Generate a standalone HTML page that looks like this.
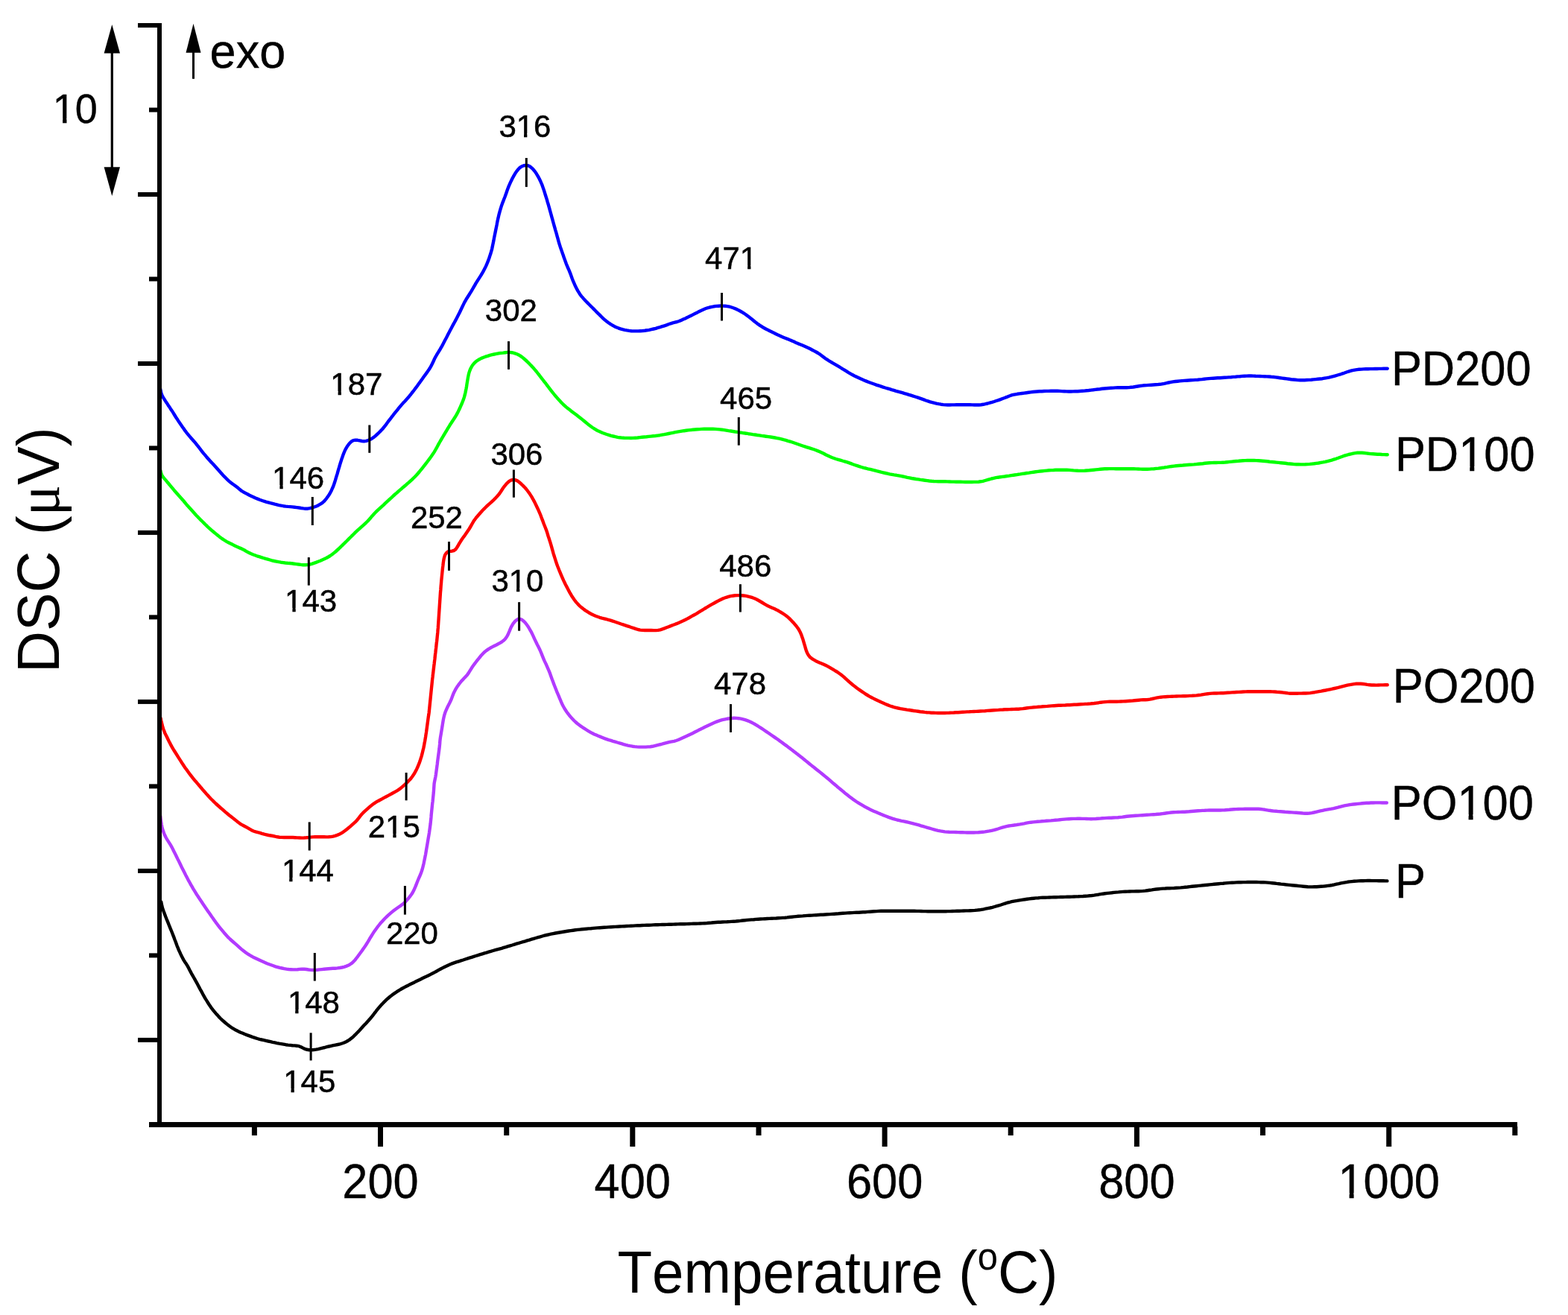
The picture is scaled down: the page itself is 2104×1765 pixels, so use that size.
<!DOCTYPE html>
<html><head><meta charset="utf-8"><title>DSC curves</title>
<style>html,body{margin:0;padding:0;background:#fff;}svg{display:block;}text{font-family:"Liberation Sans",Arial,sans-serif;fill:#000;font-kerning:none;}</style></head><body>
<svg width="2104" height="1765" viewBox="0 0 2104 1765">
<rect width="2104" height="1765" fill="#fff"/>
<path d="M215.2,522.1 L215.7,525.1 L216.4,527.9 L217.5,530.7 L218.9,533.3 L220.5,535.9 L222.1,538.4 L223.8,540.9 L225.4,543.4 L227.1,545.9 L228.7,548.4 L230.4,550.9 L232,553.4 L233.6,556 L235.1,558.5 L236.7,561.1 L238.4,563.6 L240,566.1 L241.7,568.6 L243.4,571 L245.1,573.5 L246.9,575.9 L248.6,578.4 L250.4,580.8 L252.3,583.1 L254.2,585.4 L256.2,587.7 L258.2,589.9 L260.2,592.2 L262.1,594.4 L264,596.8 L265.9,599.1 L267.7,601.5 L269.5,603.9 L271.4,606.3 L273.2,608.6 L275.2,610.9 L277.1,613.2 L279.1,615.5 L281.1,617.7 L283.1,619.9 L285.1,622.1 L287.2,624.3 L289.2,626.5 L291.2,628.8 L293.2,631 L295.2,633.2 L297.2,635.5 L299.2,637.7 L301.3,639.9 L303.4,642 L305.5,644.1 L307.7,646.1 L310,648 L312.4,649.8 L314.9,651.5 L317.3,653.3 L319.6,655.1 L321.9,657.1 L324.2,658.9 L326.8,660.5 L329.4,661.9 L332.1,663.3 L334.8,664.7 L337.5,666 L340.2,667.2 L342.9,668.5 L345.7,669.6 L348.5,670.7 L351.3,671.7 L354.1,672.7 L357,673.6 L359.9,674.4 L362.8,675.2 L365.7,675.9 L368.6,676.7 L371.5,677.4 L374.4,678.1 L377.4,678.7 L380.3,679.2 L383.3,679.6 L386.3,679.9 L389.3,680.1 L392.2,680.4 L395.2,680.7 L398.2,681.1 L401.2,681.5 L404.1,682 L407.1,682.4 L410,682.7 L413,682.7 L415.9,682.2 L418.8,681.4 L421.7,680.5 L424.5,679.5 L427.2,678.2 L429.8,676.7 L432.3,675.1 L434.5,673.2 L436.5,671 L438.4,668.6 L440.1,666.2 L441.8,663.7 L443.3,661.1 L444.7,658.4 L445.9,655.7 L447.1,653 L448.1,650.2 L449.1,647.3 L450,644.4 L450.8,641.6 L451.7,638.7 L452.6,635.8 L453.4,632.9 L454.2,630.1 L455.1,627.2 L455.9,624.3 L456.8,621.4 L457.7,618.6 L458.6,615.7 L459.6,612.9 L460.6,610.1 L461.7,607.3 L462.9,604.5 L464.3,601.9 L465.8,599.3 L467.5,596.9 L469.4,594.6 L471.6,592.5 L474.1,591.1 L476.8,590.6 L479.7,590.8 L482.6,591.4 L485.6,592 L488.5,592.3 L491.4,591.9 L494.2,591 L496.9,589.8 L499.5,588.3 L501.9,586.6 L504.2,584.7 L506.4,582.6 L508.6,580.6 L510.7,578.4 L512.8,576.3 L514.7,574 L516.6,571.6 L518.4,569.3 L520.2,566.8 L522,564.4 L523.8,562.1 L525.6,559.7 L527.5,557.3 L529.3,554.9 L531.2,552.6 L533.1,550.3 L535,547.9 L536.9,545.6 L538.8,543.4 L540.8,541.1 L542.9,538.9 L544.9,536.7 L546.9,534.5 L548.9,532.2 L550.8,529.9 L552.6,527.5 L554.5,525.2 L556.3,522.8 L558.1,520.4 L559.9,518 L561.6,515.5 L563.4,513.1 L565.1,510.7 L566.9,508.2 L568.6,505.8 L570.4,503.4 L572.2,500.9 L573.9,498.5 L575.6,496 L577.2,493.5 L578.7,490.9 L580,488.2 L581.3,485.5 L582.5,482.8 L583.8,480.1 L585.3,477.5 L586.8,474.9 L588.4,472.3 L590,469.8 L591.5,467.2 L593,464.6 L594.4,462 L595.8,459.3 L597.2,456.6 L598.6,454 L600,451.3 L601.3,448.6 L602.7,446 L604.1,443.3 L605.5,440.7 L606.9,438 L608.3,435.4 L609.8,432.7 L611.2,430.1 L612.6,427.5 L614,424.8 L615.4,422.1 L616.7,419.5 L618,416.7 L619.3,414 L620.6,411.3 L621.9,408.6 L623.2,405.9 L624.7,403.3 L626.2,400.7 L627.8,398.2 L629.4,395.7 L631,393.1 L632.6,390.6 L634.1,388 L635.6,385.4 L637.1,382.8 L638.6,380.2 L640.2,377.6 L641.8,375.1 L643.4,372.6 L645,370.1 L646.6,367.5 L648.1,364.9 L649.5,362.3 L650.9,359.6 L652.2,356.9 L653.4,354.1 L654.5,351.4 L655.6,348.6 L656.6,345.7 L657.5,342.9 L658.5,340 L659.3,337.2 L660.1,334.3 L660.7,331.3 L661.3,328.4 L661.9,325.5 L662.5,322.5 L663,319.6 L663.6,316.6 L664.2,313.7 L664.8,310.7 L665.4,307.8 L666,304.9 L666.6,301.9 L667.1,299 L667.7,296 L668.4,293.1 L669,290.2 L669.7,287.3 L670.5,284.4 L671.3,281.5 L672.2,278.6 L673.1,275.7 L674.1,272.9 L675.2,270.1 L676.3,267.3 L677.4,264.5 L678.4,261.7 L679.4,258.9 L680.4,256 L681.4,253.2 L682.5,250.4 L683.7,247.7 L684.9,244.9 L686.2,242.2 L687.5,239.6 L688.9,236.9 L690.4,234.3 L692,231.7 L693.7,229.3 L695.6,227 L697.7,224.9 L700.2,223.3 L702.9,222.2 L705.7,221.9 L708.5,222.3 L711.2,223.6 L713.5,225.4 L715.6,227.5 L717.5,229.8 L719.2,232.2 L720.8,234.8 L722.3,237.4 L723.7,240 L725,242.7 L726.2,245.5 L727.4,248.2 L728.4,251.1 L729.4,253.9 L730.3,256.7 L731.2,259.6 L732.1,262.5 L733,265.3 L733.9,268.2 L734.7,271.1 L735.6,274 L736.4,276.8 L737.2,279.7 L738,282.6 L738.8,285.5 L739.6,288.4 L740.4,291.3 L741.2,294.2 L742,297.1 L742.8,300 L743.6,302.9 L744.4,305.7 L745.2,308.6 L746.1,311.5 L746.9,314.4 L747.7,317.3 L748.5,320.2 L749.3,323.1 L750.1,326 L751,328.8 L751.9,331.7 L752.9,334.5 L753.9,337.4 L754.9,340.2 L755.9,343 L756.8,345.8 L757.9,348.7 L758.9,351.5 L759.9,354.3 L761.1,357.1 L762.2,359.8 L763.5,362.6 L764.6,365.3 L765.7,368.1 L766.7,371 L767.7,373.8 L768.8,376.6 L770,379.3 L771.2,382.1 L772.4,384.8 L773.8,387.5 L775.2,390.1 L776.8,392.7 L778.4,395.2 L780.2,397.6 L782.2,399.9 L784.1,402.1 L786.2,404.3 L788.3,406.4 L790.4,408.5 L792.6,410.7 L794.7,412.8 L796.8,414.9 L798.9,417 L801,419.2 L803.2,421.3 L805.3,423.4 L807.4,425.5 L809.6,427.6 L811.8,429.6 L814.2,431.4 L816.6,433.2 L819,434.9 L821.6,436.5 L824.2,437.9 L826.9,439.2 L829.7,440.3 L832.6,441.3 L835.4,442.1 L838.3,442.8 L841.3,443.4 L844.2,443.9 L847.2,444.3 L850.2,444.4 L853.2,444.4 L856.2,444.4 L859.2,444.2 L862.2,444 L865.2,443.7 L868.1,443.3 L871.1,442.8 L874,442.2 L877,441.5 L879.9,440.8 L882.7,439.9 L885.6,439.1 L888.5,438.2 L891.4,437.3 L894.2,436.4 L897,435.3 L899.8,434.3 L902.7,433.4 L905.6,432.7 L908.4,432 L911.3,431 L914,429.9 L916.8,428.6 L919.5,427.4 L922.2,426.1 L924.9,424.7 L927.6,423.4 L930.2,422.1 L932.9,420.7 L935.6,419.4 L938.3,418 L941,416.7 L943.7,415.5 L946.5,414.3 L949.3,413.3 L952.2,412.5 L955.1,411.8 L958,411.3 L961,410.9 L964,410.7 L967,410.5 L970,410.6 L973,410.7 L976,411.1 L978.9,411.7 L981.8,412.5 L984.6,413.5 L987.4,414.6 L990.1,415.9 L992.7,417.3 L995.3,418.7 L997.9,420.3 L1000.4,422 L1002.8,423.8 L1005.2,425.6 L1007.6,427.4 L1009.9,429.3 L1012.2,431.2 L1014.6,433.1 L1017,434.9 L1019.4,436.6 L1021.9,438.2 L1024.5,439.8 L1027.1,441.2 L1029.8,442.6 L1032.5,443.9 L1035.2,445.2 L1037.9,446.6 L1040.6,447.9 L1043.3,449.2 L1046,450.4 L1048.7,451.7 L1051.5,452.9 L1054.2,454 L1057,455.1 L1059.8,456.3 L1062.6,457.4 L1065.3,458.6 L1068,459.9 L1070.8,461.1 L1073.6,462.2 L1076.3,463.3 L1079.1,464.5 L1081.9,465.7 L1084.6,467 L1087.3,468.3 L1089.9,469.7 L1092.6,471.1 L1095.2,472.5 L1097.8,474 L1100.3,475.6 L1102.7,477.5 L1105,479.3 L1107.4,481.1 L1109.9,482.7 L1112.5,484.3 L1115.1,485.8 L1117.6,487.4 L1120.2,488.9 L1122.8,490.4 L1125.4,491.9 L1128,493.5 L1130.5,495.1 L1133.1,496.6 L1135.6,498.2 L1138.2,499.8 L1140.8,501.3 L1143.4,502.8 L1146,504.2 L1148.7,505.5 L1151.4,506.8 L1154.1,508.1 L1156.9,509.3 L1159.6,510.5 L1162.4,511.6 L1165.2,512.7 L1168,513.8 L1170.8,514.8 L1173.6,515.8 L1176.5,516.8 L1179.3,517.7 L1182.2,518.6 L1185,519.6 L1187.9,520.5 L1190.8,521.3 L1193.7,522.2 L1196.5,523.1 L1199.4,523.9 L1202.3,524.8 L1205.2,525.6 L1208,526.4 L1210.9,527.2 L1213.8,528.1 L1216.7,528.9 L1219.6,529.8 L1222.4,530.7 L1225.3,531.6 L1228.1,532.5 L1231,533.4 L1233.8,534.4 L1236.7,535.4 L1239.5,536.4 L1242.3,537.5 L1245.1,538.4 L1248,539.4 L1250.9,540.2 L1253.8,540.9 L1256.7,541.6 L1259.6,542.2 L1262.6,542.7 L1265.6,543.1 L1268.5,543.4 L1271.5,543.5 L1274.5,543.5 L1277.5,543.4 L1280.5,543.4 L1283.5,543.3 L1286.5,543.3 L1289.5,543.3 L1292.5,543.3 L1295.5,543.3 L1298.5,543.3 L1301.5,543.3 L1304.5,543.4 L1307.5,543.5 L1310.5,543.5 L1313.5,543.5 L1316.5,543.2 L1319.5,542.8 L1322.4,542.2 L1325.3,541.5 L1328.2,540.7 L1331.1,539.9 L1334,539 L1336.8,538 L1339.7,537.1 L1342.5,536.1 L1345.3,535 L1348.1,534 L1350.9,532.9 L1353.7,531.7 L1356.5,530.7 L1359.3,529.9 L1362.3,529.3 L1365.2,528.8 L1368.2,528.4 L1371.2,528 L1374.1,527.6 L1377.1,527.2 L1380.1,526.8 L1383.1,526.4 L1386,526 L1389,525.7 L1392,525.5 L1395,525.3 L1398,525.2 L1401,525 L1404,524.9 L1407,524.9 L1410,524.8 L1413,524.7 L1416,524.7 L1419,524.8 L1422,524.9 L1425,525.1 L1428,525.2 L1431,525.4 L1434,525.5 L1437,525.5 L1440,525.4 L1443,525.3 L1446,525.2 L1449,525 L1452,524.8 L1454.9,524.6 L1457.9,524.3 L1460.9,524 L1463.9,523.6 L1466.9,523.3 L1469.8,522.9 L1472.8,522.5 L1475.8,522.2 L1478.8,521.8 L1481.8,521.5 L1484.7,521.2 L1487.7,521 L1490.7,520.8 L1493.7,520.6 L1496.7,520.4 L1499.7,520.3 L1502.7,520.3 L1505.7,520.2 L1508.7,520.2 L1511.7,520.2 L1514.7,520.1 L1517.7,519.8 L1520.7,519.5 L1523.6,519 L1526.6,518.5 L1529.6,518 L1532.5,517.6 L1535.5,517.3 L1538.5,517.1 L1541.5,516.9 L1544.5,516.7 L1547.5,516.5 L1550.5,516.3 L1553.5,516.1 L1556.4,515.8 L1559.4,515.3 L1562.4,514.8 L1565.3,514.2 L1568.2,513.5 L1571.2,512.9 L1574.1,512.4 L1577.1,512 L1580.1,511.7 L1583.1,511.4 L1586,511.1 L1589,510.9 L1592,510.7 L1595,510.5 L1598,510.3 L1601,510.1 L1604,509.9 L1607,509.7 L1610,509.4 L1613,509.1 L1615.9,508.7 L1618.9,508.4 L1621.9,508.1 L1624.9,507.9 L1627.9,507.7 L1630.9,507.5 L1633.9,507.3 L1636.9,507.2 L1639.9,507 L1642.9,506.8 L1645.9,506.6 L1648.9,506.4 L1651.8,506.2 L1654.8,505.9 L1657.8,505.7 L1660.8,505.4 L1663.8,505.2 L1666.8,504.9 L1669.8,504.7 L1672.8,504.6 L1675.8,504.5 L1678.8,504.5 L1681.8,504.6 L1684.8,504.8 L1687.8,504.9 L1690.8,505 L1693.8,505.1 L1696.8,505.2 L1699.8,505.4 L1702.8,505.5 L1705.7,505.8 L1708.7,506 L1711.7,506.4 L1714.7,506.8 L1717.7,507.2 L1720.6,507.6 L1723.6,508 L1726.6,508.4 L1729.5,508.8 L1732.5,509.2 L1735.5,509.5 L1738.5,509.8 L1741.5,510.1 L1744.5,510.3 L1747.5,510.3 L1750.5,510.2 L1753.5,510 L1756.5,509.9 L1759.4,509.7 L1762.4,509.4 L1765.4,509.1 L1768.4,508.8 L1771.4,508.5 L1774.4,508.2 L1777.3,507.7 L1780.3,507.2 L1783.2,506.6 L1786.1,505.9 L1789.1,505.2 L1791.9,504.4 L1794.8,503.5 L1797.7,502.7 L1800.5,501.7 L1803.4,500.8 L1806.2,499.8 L1809,498.8 L1811.9,497.9 L1814.8,497.1 L1817.7,496.6 L1820.7,496.1 L1823.7,495.8 L1826.7,495.6 L1829.7,495.4 L1832.7,495.3 L1835.7,495.2 L1838.7,495.1 L1841.7,495.1 L1844.7,495 L1847.7,495 L1850.7,494.9 L1853.7,494.9 L1856.6,494.8 L1859.5,494.8 L1861.7,494.7" fill="none" stroke="#0000ff" stroke-width="4.4" stroke-linejoin="round" stroke-linecap="round"/>
<path d="M215.4,631.6 L216,634.5 L217,637.3 L218.5,639.8 L220.3,642.1 L222.3,644.4 L224.2,646.7 L226.2,649 L228.1,651.3 L230,653.6 L231.9,655.9 L233.8,658.2 L235.8,660.5 L237.8,662.8 L239.8,665 L241.8,667.2 L243.8,669.4 L245.8,671.7 L247.7,674 L249.6,676.3 L251.5,678.6 L253.5,680.8 L255.6,683.1 L257.6,685.3 L259.6,687.5 L261.6,689.7 L263.6,691.9 L265.7,694.1 L267.8,696.2 L269.9,698.4 L272.1,700.5 L274.2,702.6 L276.3,704.7 L278.5,706.8 L280.7,708.8 L282.9,710.8 L285.2,712.8 L287.5,714.7 L289.8,716.6 L292.1,718.5 L294.5,720.4 L296.9,722.2 L299.3,723.9 L301.8,725.5 L304.4,727.1 L307.1,728.5 L309.7,729.8 L312.4,731.1 L315.1,732.5 L317.8,733.8 L320.6,735 L323.3,736.1 L326,737.4 L328.6,738.8 L331.2,740.4 L333.8,741.8 L336.5,743.1 L339.3,744.3 L342.1,745.3 L344.9,746.3 L347.8,747.2 L350.7,748.1 L353.5,749 L356.4,749.9 L359.3,750.7 L362.2,751.5 L365.1,752.3 L368,753 L370.9,753.6 L373.9,754.2 L376.8,754.7 L379.8,755.1 L382.8,755.5 L385.7,755.8 L388.7,756 L391.7,756.3 L394.7,756.7 L397.7,757.1 L400.6,757.5 L403.6,757.9 L406.6,758.2 L409.6,758.3 L412.5,758.1 L415.5,757.5 L418.4,756.8 L421.2,755.9 L424.1,754.9 L426.9,753.8 L429.7,752.7 L432.4,751.5 L435.1,750.3 L437.8,749 L440.5,747.5 L443,746 L445.5,744.3 L447.9,742.4 L450.2,740.5 L452.4,738.5 L454.6,736.5 L456.8,734.4 L458.9,732.3 L461.1,730.2 L463.2,728.1 L465.4,726 L467.5,723.9 L469.6,721.8 L471.7,719.7 L473.9,717.6 L476,715.4 L478.1,713.4 L480.3,711.3 L482.6,709.3 L484.8,707.3 L487.1,705.3 L489.3,703.3 L491.5,701.3 L493.6,699.2 L495.6,697 L497.6,694.7 L499.5,692.4 L501.5,690.2 L503.6,688 L505.7,685.9 L507.9,683.8 L510.1,681.8 L512.3,679.8 L514.6,677.8 L516.8,675.7 L519,673.7 L521.2,671.7 L523.4,669.6 L525.6,667.6 L527.8,665.5 L530,663.5 L532.3,661.6 L534.5,659.6 L536.8,657.6 L539.1,655.7 L541.4,653.7 L543.7,651.8 L545.9,649.8 L548.2,647.9 L550.4,645.9 L552.7,643.9 L554.8,641.8 L556.9,639.7 L559,637.5 L561,635.2 L562.9,633 L564.8,630.6 L566.7,628.3 L568.6,625.9 L570.4,623.6 L572.3,621.2 L574.1,618.8 L575.9,616.4 L577.7,614 L579.4,611.6 L581.1,609.1 L582.7,606.6 L584.2,604 L585.7,601.4 L587.1,598.7 L588.5,596.1 L590,593.5 L591.5,590.9 L593,588.3 L594.6,585.7 L596.1,583.1 L597.6,580.6 L599.2,578 L600.7,575.4 L602.3,572.8 L603.8,570.3 L605.5,567.8 L607.1,565.3 L608.8,562.8 L610.4,560.3 L612,557.7 L613.4,555.1 L614.8,552.4 L616.1,549.7 L617.4,547 L618.6,544.2 L619.8,541.5 L620.9,538.7 L622,535.9 L622.9,533.1 L623.7,530.2 L624.4,527.2 L625,524.3 L625.6,521.4 L626.1,518.4 L626.5,515.5 L627,512.5 L627.5,509.5 L628,506.6 L628.6,503.6 L629.3,500.7 L630.2,497.9 L631.3,495.1 L632.7,492.4 L634.3,489.9 L636.2,487.6 L638.3,485.6 L640.7,483.8 L643.3,482.2 L645.9,480.9 L648.7,479.8 L651.5,478.7 L654.4,477.8 L657.2,476.9 L660.1,476.2 L663.1,475.5 L666,474.9 L668.9,474.3 L671.9,473.9 L674.9,473.6 L677.9,473.2 L680.8,472.9 L683.8,472.9 L686.8,473.2 L689.7,473.9 L692.5,474.8 L695.3,476 L697.8,477.4 L700.3,479.1 L702.6,481 L704.9,483 L707.1,485 L709.2,487.1 L711.3,489.3 L713.4,491.4 L715.4,493.6 L717.4,495.9 L719.4,498.2 L721.2,500.5 L723.1,502.9 L724.9,505.3 L726.7,507.6 L728.6,510 L730.4,512.4 L732.3,514.7 L734.1,517.1 L735.9,519.5 L737.7,521.9 L739.6,524.3 L741.4,526.6 L743.3,529 L745.2,531.3 L747.2,533.6 L749.1,535.8 L751.2,538 L753.2,540.2 L755.3,542.3 L757.5,544.4 L759.7,546.4 L762.1,548.3 L764.5,550.1 L766.8,551.9 L769.2,553.7 L771.6,555.5 L774,557.3 L776.4,559.2 L778.7,561 L781.1,562.9 L783.4,564.8 L785.8,566.7 L788.1,568.6 L790.4,570.5 L792.8,572.3 L795.2,574 L797.8,575.6 L800.3,577.2 L803,578.6 L805.7,579.8 L808.5,581 L811.3,582 L814.1,583 L817,583.9 L819.9,584.8 L822.8,585.5 L825.7,586.2 L828.6,586.8 L831.6,587.3 L834.6,587.6 L837.5,587.8 L840.5,587.9 L843.5,587.9 L846.5,588 L849.5,587.9 L852.5,587.7 L855.5,587.5 L858.5,587.1 L861.5,586.8 L864.5,586.5 L867.5,586.3 L870.4,585.9 L873.4,585.6 L876.4,585.3 L879.4,585 L882.4,584.6 L885.3,584.2 L888.3,583.7 L891.3,583.2 L894.2,582.6 L897.1,582 L900.1,581.4 L903,580.8 L906,580.2 L908.9,579.7 L911.9,579.2 L914.8,578.7 L917.8,578.2 L920.8,577.8 L923.7,577.4 L926.7,577.1 L929.7,576.8 L932.7,576.5 L935.7,576.3 L938.7,576.1 L941.7,575.9 L944.7,575.8 L947.7,575.8 L950.7,575.7 L953.7,575.8 L956.7,575.8 L959.7,575.9 L962.6,576.1 L965.6,576.4 L968.6,576.7 L971.6,577.1 L974.5,577.6 L977.5,578.1 L980.5,578.5 L983.4,579 L986.4,579.5 L989.4,579.9 L992.3,580.4 L995.3,580.8 L998.3,581.3 L1001.2,581.7 L1004.2,582.2 L1007.2,582.6 L1010.1,583.1 L1013.1,583.5 L1016.1,584 L1019,584.4 L1022,584.9 L1025,585.3 L1027.9,585.7 L1030.9,586.1 L1033.9,586.5 L1036.8,587 L1039.8,587.5 L1042.7,588.1 L1045.7,588.7 L1048.6,589.4 L1051.5,590.2 L1054.4,590.9 L1057.3,591.8 L1060.1,592.6 L1063,593.5 L1065.8,594.5 L1068.7,595.5 L1071.5,596.5 L1074.3,597.5 L1077.2,598.5 L1080,599.4 L1082.9,600.3 L1085.7,601.2 L1088.6,602.1 L1091.5,603 L1094.3,604 L1097.1,605.1 L1099.9,606.2 L1102.6,607.5 L1105.3,608.8 L1107.9,610.2 L1110.6,611.5 L1113.3,612.8 L1116.1,614 L1118.9,615 L1121.7,616 L1124.6,616.8 L1127.5,617.6 L1130.4,618.5 L1133.3,619.3 L1136.1,620.2 L1139,621.1 L1141.8,622.1 L1144.6,623.2 L1147.4,624.2 L1150.3,625.2 L1153.1,626.1 L1156,627 L1158.9,627.8 L1161.8,628.5 L1164.7,629.3 L1167.6,629.9 L1170.5,630.6 L1173.5,631.3 L1176.4,632.1 L1179.3,632.8 L1182.2,633.6 L1185.1,634.3 L1188,635 L1190.9,635.7 L1193.8,636.4 L1196.8,636.9 L1199.8,637.4 L1202.7,637.8 L1205.7,638.3 L1208.6,638.9 L1211.6,639.5 L1214.5,640.1 L1217.4,640.8 L1220.4,641.4 L1223.3,642 L1226.3,642.5 L1229.2,643 L1232.2,643.4 L1235.1,643.9 L1238.1,644.3 L1241.1,644.7 L1244.1,645.1 L1247,645.5 L1250,645.8 L1253,646 L1256,646.1 L1259,646.2 L1262,646.3 L1265,646.3 L1268,646.3 L1271,646.4 L1274,646.5 L1277,646.6 L1280,646.6 L1283,646.7 L1286,646.8 L1289,646.8 L1292,646.9 L1295,647 L1298,647 L1301,647 L1304,647 L1307,646.9 L1310,646.9 L1313,646.7 L1316,646.3 L1318.9,645.8 L1321.8,645 L1324.7,644.2 L1327.5,643.3 L1330.4,642.5 L1333.3,641.8 L1336.3,641.2 L1339.2,640.7 L1342.2,640.3 L1345.2,639.9 L1348.1,639.5 L1351.1,639 L1354.1,638.6 L1357.1,638.1 L1360,637.7 L1363,637.3 L1366,636.8 L1368.9,636.4 L1371.9,635.9 L1374.9,635.5 L1377.8,635 L1380.8,634.6 L1383.8,634.1 L1386.7,633.7 L1389.7,633.3 L1392.7,632.9 L1395.6,632.5 L1398.6,632.2 L1401.6,631.9 L1404.6,631.6 L1407.6,631.3 L1410.6,631.1 L1413.6,631 L1416.6,630.8 L1419.6,630.7 L1422.6,630.7 L1425.6,630.7 L1428.6,630.7 L1431.6,630.8 L1434.6,630.9 L1437.6,631.1 L1440.5,631.4 L1443.5,631.6 L1446.5,631.8 L1449.5,631.9 L1452.5,631.9 L1455.5,631.8 L1458.5,631.5 L1461.5,631.3 L1464.5,631 L1467.5,630.7 L1470.4,630.4 L1473.4,630.1 L1476.4,629.8 L1479.4,629.5 L1482.4,629.3 L1485.4,629.2 L1488.4,629.1 L1491.4,629.1 L1494.4,629.1 L1497.4,629.2 L1500.4,629.2 L1503.4,629.2 L1506.4,629.2 L1509.4,629.2 L1512.4,629.2 L1515.4,629.2 L1518.4,629.2 L1521.4,629.3 L1524.4,629.4 L1527.4,629.5 L1530.4,629.6 L1533.4,629.7 L1536.4,629.7 L1539.4,629.7 L1542.4,629.6 L1545.4,629.4 L1548.4,629.2 L1551.3,628.9 L1554.3,628.6 L1557.3,628.2 L1560.3,627.8 L1563.2,627.3 L1566.2,626.9 L1569.2,626.4 L1572.1,626 L1575.1,625.6 L1578.1,625.3 L1581.1,625 L1584.1,624.7 L1587.1,624.5 L1590,624.2 L1593,624 L1596,623.8 L1599,623.6 L1602,623.4 L1605,623.1 L1608,622.8 L1611,622.5 L1614,622.2 L1616.9,621.8 L1619.9,621.5 L1622.9,621.3 L1625.9,621.1 L1628.9,621 L1631.9,621 L1634.9,620.9 L1637.9,620.9 L1640.9,620.7 L1643.9,620.5 L1646.9,620.2 L1649.8,619.9 L1652.8,619.6 L1655.8,619.3 L1658.8,619 L1661.8,618.8 L1664.8,618.5 L1667.8,618.3 L1670.8,618.1 L1673.8,618 L1676.8,618 L1679.8,618 L1682.8,618 L1685.8,618.1 L1688.8,618.3 L1691.8,618.5 L1694.7,618.7 L1697.7,619 L1700.7,619.3 L1703.7,619.7 L1706.7,620 L1709.7,620.3 L1712.6,620.6 L1715.6,620.9 L1718.6,621.2 L1721.6,621.5 L1724.6,621.8 L1727.6,622.2 L1730.5,622.5 L1733.5,622.8 L1736.5,623.1 L1739.5,623.2 L1742.5,623.3 L1745.5,623.4 L1748.5,623.4 L1751.5,623.3 L1754.5,623.1 L1757.5,622.9 L1760.5,622.6 L1763.5,622.3 L1766.4,621.9 L1769.4,621.5 L1772.4,620.9 L1775.3,620.4 L1778.2,619.8 L1781.2,619.1 L1784.1,618.3 L1787,617.6 L1789.8,616.7 L1792.7,615.8 L1795.5,614.8 L1798.3,613.7 L1801.1,612.7 L1804,611.7 L1806.8,610.8 L1809.7,610 L1812.6,609.3 L1815.6,608.6 L1818.5,608.1 L1821.5,607.7 L1824.5,607.6 L1827.4,607.7 L1830.4,608 L1833.4,608.4 L1836.4,608.8 L1839.4,609.1 L1842.3,609.3 L1845.3,609.5 L1848.3,609.7 L1851.3,609.8 L1854.3,610 L1857.3,610.1 L1860.2,610.2 L1861.7,610.3" fill="none" stroke="#00ff00" stroke-width="4.4" stroke-linejoin="round" stroke-linecap="round"/>
<path d="M215.6,964 L216.2,966.9 L216.9,969.9 L217.6,972.8 L218.3,975.7 L219.2,978.5 L220.3,981.3 L221.4,984.1 L222.7,986.8 L224.1,989.5 L225.4,992.2 L226.7,994.9 L228.1,997.6 L229.4,1000.2 L230.9,1002.8 L232.4,1005.4 L234,1008 L235.6,1010.5 L237.2,1013 L238.8,1015.6 L240.4,1018.1 L242,1020.6 L243.6,1023.2 L245.3,1025.7 L246.9,1028.2 L248.6,1030.7 L250.4,1033.1 L252.1,1035.5 L253.9,1038 L255.7,1040.4 L257.5,1042.7 L259.4,1045.1 L261.3,1047.4 L263.3,1049.6 L265.2,1051.9 L267.2,1054.2 L269.1,1056.5 L271.1,1058.8 L273,1061.1 L275,1063.3 L277,1065.6 L279,1067.8 L281,1070 L283.1,1072.2 L285.2,1074.3 L287.3,1076.4 L289.5,1078.5 L291.7,1080.5 L294,1082.5 L296.2,1084.5 L298.5,1086.4 L300.7,1088.4 L303,1090.4 L305.3,1092.3 L307.6,1094.2 L310,1096 L312.4,1097.9 L314.7,1099.7 L317.1,1101.6 L319.4,1103.5 L321.8,1105.3 L324.3,1106.9 L326.9,1108.3 L329.6,1109.7 L332.2,1111.2 L334.8,1112.7 L337.4,1114.2 L340.1,1115.5 L342.9,1116.4 L345.8,1117.2 L348.7,1117.9 L351.6,1118.8 L354.5,1119.6 L357.4,1120.3 L360.3,1121 L363.2,1121.5 L366.2,1122 L369.1,1122.7 L372,1123.3 L375,1123.7 L378,1123.9 L381,1124 L384,1124 L387,1124 L390,1124 L393,1124 L396,1124.2 L399,1124.4 L402,1124.5 L405,1124.6 L407.9,1124.5 L410.9,1124.3 L413.9,1124 L416.9,1123.6 L419.9,1123.4 L422.9,1123.3 L425.9,1123.2 L428.9,1123.2 L431.9,1123.3 L434.9,1123.3 L437.9,1123.4 L440.9,1123.3 L443.8,1123.1 L446.8,1122.6 L449.7,1121.8 L452.5,1120.9 L455.3,1119.8 L457.9,1118.4 L460.4,1116.8 L462.9,1115 L465.2,1113.2 L467.6,1111.3 L469.9,1109.4 L472.1,1107.4 L474.4,1105.4 L476.6,1103.4 L478.7,1101.2 L480.6,1099 L482.4,1096.6 L484.2,1094.2 L486.2,1092 L488.3,1089.9 L490.5,1087.8 L492.8,1085.8 L495,1083.9 L497.3,1081.9 L499.7,1080.1 L502.1,1078.3 L504.6,1076.7 L507.2,1075.2 L509.9,1073.8 L512.5,1072.4 L515.1,1070.9 L517.8,1069.5 L520.4,1068.1 L523.1,1066.6 L525.7,1065.2 L528.3,1063.8 L530.9,1062.3 L533.5,1060.8 L536,1059.2 L538.4,1057.3 L540.6,1055.4 L542.9,1053.4 L545.1,1051.4 L547.2,1049.3 L549.3,1047.1 L551.3,1044.9 L553.1,1042.5 L554.8,1040 L556.4,1037.5 L557.8,1034.9 L559.2,1032.2 L560.4,1029.5 L561.6,1026.7 L562.7,1023.9 L563.7,1021.1 L564.6,1018.2 L565.5,1015.3 L566.3,1012.4 L567,1009.5 L567.7,1006.6 L568.4,1003.7 L569,1000.8 L569.5,997.8 L570.1,994.9 L570.6,991.9 L571.1,988.9 L571.5,986 L572,983 L572.4,980 L572.8,977.1 L573.2,974.1 L573.6,971.1 L574,968.2 L574.4,965.2 L574.8,962.2 L575.3,959.2 L575.7,956.3 L576,953.3 L576.3,950.3 L576.6,947.3 L576.9,944.3 L577.2,941.3 L577.5,938.4 L577.8,935.4 L578.1,932.4 L578.4,929.4 L578.7,926.4 L579,923.4 L579.3,920.5 L579.6,917.5 L579.9,914.5 L580.2,911.5 L580.6,908.5 L580.9,905.5 L581.3,902.6 L581.6,899.6 L582,896.6 L582.3,893.6 L582.7,890.6 L583,887.7 L583.4,884.7 L583.7,881.7 L584,878.7 L584.4,875.7 L584.7,872.8 L585.1,869.8 L585.4,866.8 L585.7,863.8 L586.1,860.8 L586.4,857.9 L586.7,854.9 L587,851.9 L587.3,848.9 L587.5,845.9 L587.8,842.9 L588,839.9 L588.2,836.9 L588.4,833.9 L588.6,831 L588.8,828 L589,825 L589.2,822 L589.4,819 L589.6,816 L589.8,813 L590,810 L590.2,807 L590.4,804 L590.6,801 L590.8,798 L591,795 L591.3,792 L591.5,789 L591.7,786.1 L592,783.1 L592.2,780.1 L592.5,777.1 L592.8,774.1 L593.1,771.1 L593.4,768.1 L593.7,765.2 L594,762.2 L594.4,759.2 L594.7,756.2 L595.1,753.2 L595.6,750.3 L596.3,747.4 L597.3,744.6 L598.9,742.2 L601,740.5 L603.6,739.9 L606.4,739.7 L609.1,739 L611.3,737.4 L613,735 L614.6,732.5 L616,729.9 L617.6,727.3 L619.2,724.8 L620.9,722.3 L622.7,719.9 L624.4,717.5 L626.1,715 L627.8,712.5 L629.5,710 L631,707.5 L632.5,704.9 L634,702.2 L635.5,699.6 L637.2,697.2 L639,694.8 L641,692.5 L642.9,690.3 L644.9,688 L646.9,685.8 L649,683.6 L651.1,681.5 L653.2,679.4 L655.4,677.3 L657.7,675.3 L659.9,673.3 L662.1,671.3 L664.3,669.2 L666.3,667.1 L668.3,664.8 L670.2,662.5 L671.9,660 L673.5,657.5 L675.1,655 L676.9,652.6 L678.8,650.3 L680.9,648.1 L683,646.1 L685.5,644.6 L688.2,644 L691.1,644.1 L693.8,645.1 L696.2,646.8 L698.5,648.7 L700.7,650.8 L702.8,652.9 L704.9,655 L706.8,657.3 L708.6,659.7 L710.4,662.1 L712,664.6 L713.6,667.2 L715.1,669.8 L716.5,672.4 L717.9,675.1 L719.2,677.8 L720.5,680.5 L721.8,683.2 L723,685.9 L724.2,688.7 L725.4,691.5 L726.4,694.3 L727.5,697.1 L728.6,699.9 L729.6,702.7 L730.7,705.5 L731.8,708.3 L732.9,711.1 L733.9,713.9 L734.8,716.8 L735.6,719.6 L736.6,722.5 L737.5,725.3 L738.4,728.2 L739.3,731.1 L740.1,733.9 L740.9,736.8 L741.7,739.7 L742.5,742.6 L743.4,745.5 L744.3,748.3 L745.2,751.2 L746.1,754.1 L747.1,756.9 L748.1,759.7 L749.2,762.5 L750.3,765.3 L751.5,768.1 L752.6,770.8 L753.8,773.6 L755,776.4 L756.2,779.1 L757.5,781.8 L758.8,784.5 L760.2,787.1 L761.6,789.8 L763,792.5 L764.4,795.1 L765.9,797.7 L767.4,800.3 L769.1,802.8 L770.8,805.2 L772.6,807.6 L774.6,809.9 L776.6,812.1 L778.8,814.1 L781.1,816 L783.5,817.9 L785.9,819.6 L788.4,821.2 L791,822.8 L793.6,824.2 L796.3,825.5 L799.1,826.7 L801.9,827.8 L804.7,828.8 L807.6,829.6 L810.5,830.3 L813.4,831 L816.3,831.8 L819.2,832.6 L822.1,833.6 L824.9,834.5 L827.7,835.5 L830.6,836.5 L833.4,837.5 L836.2,838.4 L839.1,839.3 L842,840.3 L844.8,841.2 L847.6,842.2 L850.5,843.2 L853.3,844.1 L856.2,845 L859.1,845.6 L862.1,845.9 L865.1,846 L868.1,846 L871.1,846 L874,846 L877,846.1 L880,846.1 L883,845.9 L885.9,845.3 L888.8,844.4 L891.6,843.4 L894.4,842.3 L897.2,841.2 L900,840.1 L902.8,839 L905.6,838 L908.4,836.9 L911.2,835.7 L913.9,834.5 L916.6,833.3 L919.3,832 L922,830.6 L924.6,829.2 L927.3,827.7 L929.9,826.2 L932.5,824.8 L935.1,823.3 L937.7,821.7 L940.2,820.2 L942.8,818.6 L945.3,817 L947.9,815.5 L950.5,813.9 L953.1,812.4 L955.7,810.9 L958.3,809.5 L960.9,808 L963.5,806.6 L966.2,805.2 L968.9,803.9 L971.7,802.8 L974.5,801.8 L977.4,800.9 L980.3,800.2 L983.2,799.7 L986.2,799.3 L989.2,799.1 L992.2,799.1 L995.2,799.2 L998.2,799.5 L1001.1,799.9 L1004.1,800.6 L1007,801.3 L1009.8,802.2 L1012.6,803.3 L1015.3,804.5 L1018,806 L1020.6,807.5 L1023.1,809 L1025.7,810.6 L1028.3,812.1 L1030.9,813.5 L1033.6,814.7 L1036.4,815.9 L1039.1,817.1 L1041.8,818.4 L1044.5,819.8 L1047.1,821.3 L1049.6,822.9 L1052.1,824.5 L1054.6,826.2 L1057,828.1 L1059.2,830.1 L1061.3,832.2 L1063.4,834.4 L1065.4,836.6 L1067.3,838.9 L1069.2,841.2 L1071,843.6 L1072.5,846.2 L1073.9,848.8 L1075.1,851.6 L1076.1,854.4 L1077.1,857.2 L1078,860.1 L1078.8,863 L1079.7,865.8 L1080.5,868.7 L1081.3,871.6 L1082.3,874.4 L1083.5,877.2 L1085,879.7 L1086.9,882 L1089.2,883.8 L1091.7,885.4 L1094.3,886.9 L1097,888.2 L1099.7,889.4 L1102.5,890.6 L1105.3,891.7 L1108,893 L1110.7,894.4 L1113.3,895.9 L1115.9,897.4 L1118.4,898.9 L1121,900.5 L1123.6,902 L1126,903.7 L1128.5,905.5 L1130.8,907.4 L1133.1,909.3 L1135.3,911.3 L1137.5,913.3 L1139.7,915.4 L1142,917.3 L1144.3,919.2 L1146.7,921.1 L1149.1,922.9 L1151.5,924.7 L1153.9,926.4 L1156.4,928.1 L1158.9,929.8 L1161.4,931.5 L1163.9,933 L1166.5,934.6 L1169.1,936 L1171.8,937.4 L1174.5,938.8 L1177.2,940.1 L1179.9,941.3 L1182.6,942.6 L1185.4,943.8 L1188.1,945 L1190.9,946.1 L1193.7,947.2 L1196.5,948.2 L1199.4,949.1 L1202.3,949.8 L1205.2,950.5 L1208.1,951.1 L1211.1,951.6 L1214.1,952.1 L1217,952.6 L1220,953 L1222.9,953.5 L1225.9,954 L1228.9,954.4 L1231.9,954.8 L1234.8,955.2 L1237.8,955.5 L1240.8,955.9 L1243.8,956.2 L1246.8,956.4 L1249.8,956.7 L1252.7,956.8 L1255.7,956.9 L1258.7,957 L1261.7,957 L1264.7,957 L1267.7,957 L1270.7,956.9 L1273.7,956.8 L1276.7,956.6 L1279.7,956.5 L1282.7,956.3 L1285.7,956.2 L1288.7,956 L1291.7,955.8 L1294.7,955.6 L1297.7,955.4 L1300.7,955.3 L1303.7,955.1 L1306.7,955 L1309.7,954.9 L1312.7,954.7 L1315.7,954.5 L1318.7,954.4 L1321.7,954.2 L1324.7,953.9 L1327.7,953.7 L1330.6,953.5 L1333.6,953.3 L1336.6,953.1 L1339.6,952.9 L1342.6,952.6 L1345.6,952.5 L1348.6,952.3 L1351.6,952.2 L1354.6,952.1 L1357.6,952 L1360.6,951.9 L1363.6,951.8 L1366.6,951.7 L1369.6,951.4 L1372.6,951.1 L1375.5,950.7 L1378.5,950.3 L1381.5,949.9 L1384.5,949.6 L1387.4,949.3 L1390.4,949.1 L1393.4,948.8 L1396.4,948.6 L1399.4,948.3 L1402.4,948.1 L1405.4,947.9 L1408.4,947.6 L1411.4,947.4 L1414.4,947.2 L1417.4,947 L1420.4,946.8 L1423.3,946.7 L1426.3,946.6 L1429.3,946.5 L1432.3,946.3 L1435.3,946.2 L1438.3,946 L1441.3,945.8 L1444.3,945.7 L1447.3,945.5 L1450.3,945.3 L1453.3,945.1 L1456.3,944.9 L1459.3,944.8 L1462.3,944.6 L1465.3,944.3 L1468.3,944 L1471.2,943.6 L1474.2,943.2 L1477.2,942.7 L1480.1,942.4 L1483.1,942.1 L1486.1,941.9 L1489.1,941.8 L1492.1,941.8 L1495.1,941.8 L1498.1,941.7 L1501.1,941.6 L1504.1,941.5 L1507.1,941.4 L1510.1,941.2 L1513.1,941 L1516.1,940.8 L1519.1,940.6 L1522.1,940.3 L1525.1,940 L1528,939.7 L1531,939.4 L1534,939.3 L1537,939.2 L1540,939 L1542.9,938.6 L1545.9,938 L1548.8,937.3 L1551.7,936.7 L1554.7,936.2 L1557.6,935.7 L1560.6,935.4 L1563.6,935.2 L1566.6,935 L1569.6,934.9 L1572.6,934.7 L1575.6,934.6 L1578.6,934.5 L1581.6,934.4 L1584.6,934.4 L1587.6,934.3 L1590.6,934.2 L1593.6,934.1 L1596.6,933.9 L1599.6,933.8 L1602.6,933.6 L1605.6,933.4 L1608.5,933 L1611.5,932.6 L1614.5,932.1 L1617.4,931.6 L1620.4,931.2 L1623.4,930.9 L1626.4,930.6 L1629.4,930.5 L1632.4,930.5 L1635.4,930.4 L1638.4,930.3 L1641.4,930.2 L1644.4,930 L1647.3,929.8 L1650.3,929.6 L1653.3,929.4 L1656.3,929.2 L1659.3,929 L1662.3,928.9 L1665.3,928.7 L1668.3,928.5 L1671.3,928.4 L1674.3,928.3 L1677.3,928.3 L1680.3,928.2 L1683.3,928.3 L1686.3,928.3 L1689.3,928.3 L1692.3,928.3 L1695.3,928.3 L1698.3,928.2 L1701.3,928.2 L1704.3,928.3 L1707.3,928.4 L1710.3,928.5 L1713.3,928.8 L1716.3,929 L1719.3,929.3 L1722.2,929.6 L1725.2,930 L1728.2,930.4 L1731.2,930.7 L1734.2,930.8 L1737.2,930.8 L1740.2,930.7 L1743.2,930.6 L1746.1,930.6 L1749.1,930.5 L1752.1,930.5 L1755.1,930.4 L1758.1,930.1 L1761.1,929.6 L1764,929.2 L1767,928.6 L1770,928.1 L1772.9,927.6 L1775.9,927 L1778.8,926.5 L1781.7,925.9 L1784.7,925.3 L1787.6,924.7 L1790.6,924 L1793.5,923.3 L1796.4,922.6 L1799.3,921.8 L1802.2,921.1 L1805.1,920.4 L1808,919.7 L1811,919.1 L1813.9,918.6 L1816.9,918.1 L1819.9,917.8 L1822.8,917.6 L1825.8,917.7 L1828.8,918 L1831.8,918.4 L1834.7,918.9 L1837.7,919.2 L1840.7,919.5 L1843.7,919.5 L1846.7,919.6 L1849.7,919.5 L1852.7,919.4 L1855.7,919.4 L1858.6,919.3 L1861.3,919.2 L1861.7,919.2" fill="none" stroke="#ff0000" stroke-width="4.4" stroke-linejoin="round" stroke-linecap="round"/>
<path d="M215.2,1095.2 L215.5,1098.2 L215.8,1101.2 L216.3,1104.1 L216.8,1107.1 L217.4,1110 L218.1,1112.9 L219.1,1115.8 L220.1,1118.6 L221.3,1121.3 L222.6,1124 L224.1,1126.6 L225.7,1129.1 L227.3,1131.6 L228.9,1134.2 L230.4,1136.8 L231.8,1139.5 L233.1,1142.2 L234.4,1144.8 L235.8,1147.5 L237.1,1150.2 L238.4,1152.9 L239.8,1155.6 L241.1,1158.3 L242.4,1161 L243.7,1163.7 L245.1,1166.4 L246.4,1169 L247.8,1171.7 L249.1,1174.4 L250.5,1177.1 L251.9,1179.7 L253.3,1182.4 L254.8,1185 L256.2,1187.6 L257.7,1190.2 L259.2,1192.8 L260.8,1195.4 L262.3,1197.9 L263.9,1200.5 L265.6,1203 L267.2,1205.5 L268.9,1208 L270.6,1210.5 L272.2,1213 L273.9,1215.5 L275.6,1217.9 L277.3,1220.4 L279,1222.9 L280.7,1225.3 L282.4,1227.8 L284.1,1230.3 L285.9,1232.7 L287.6,1235.2 L289.3,1237.6 L291.1,1240 L292.9,1242.4 L294.8,1244.8 L296.7,1247.1 L298.6,1249.4 L300.5,1251.7 L302.5,1254 L304.5,1256.2 L306.5,1258.4 L308.7,1260.5 L310.9,1262.5 L313.2,1264.5 L315.4,1266.4 L317.7,1268.4 L319.9,1270.4 L322.1,1272.4 L324.4,1274.4 L326.8,1276.3 L329.1,1278.1 L331.6,1279.8 L334.1,1281.4 L336.7,1283 L339.3,1284.4 L342,1285.7 L344.7,1287 L347.4,1288.3 L350.1,1289.6 L352.9,1290.8 L355.6,1292 L358.4,1293.2 L361.2,1294.3 L364,1295.3 L366.8,1296.3 L369.7,1297.3 L372.5,1298.1 L375.4,1298.9 L378.4,1299.5 L381.3,1300.1 L384.3,1300.6 L387.2,1301 L390.2,1301.2 L393.2,1301.4 L396.2,1301.4 L399.2,1301.2 L402.1,1300.9 L405.1,1300.6 L408.1,1300.7 L411,1301 L414,1301.5 L416.9,1301.9 L419.9,1302 L422.9,1301.9 L425.9,1301.7 L428.9,1301.4 L431.9,1301.1 L434.9,1300.8 L437.8,1300.5 L440.8,1300.2 L443.8,1300 L446.8,1299.8 L449.8,1299.7 L452.8,1299.4 L455.8,1299 L458.7,1298.5 L461.6,1297.8 L464.5,1296.9 L467.2,1295.8 L469.8,1294.3 L472.3,1292.6 L474.4,1290.6 L476.5,1288.4 L478.3,1286 L480.2,1283.6 L481.9,1281.2 L483.7,1278.8 L485.4,1276.4 L487.2,1273.9 L488.9,1271.5 L490.6,1269 L492.2,1266.5 L493.8,1263.9 L495.3,1261.3 L496.8,1258.7 L498.4,1256.2 L500,1253.6 L501.6,1251.1 L503.3,1248.7 L505.1,1246.2 L506.9,1243.8 L508.7,1241.5 L510.6,1239.1 L512.6,1236.9 L514.6,1234.7 L516.7,1232.5 L518.9,1230.4 L521,1228.4 L523.3,1226.4 L525.6,1224.4 L527.9,1222.5 L530.3,1220.7 L532.7,1219 L535.2,1217.3 L537.7,1215.6 L540.1,1213.8 L542.3,1211.9 L544.5,1209.8 L546.5,1207.6 L548.5,1205.3 L550.3,1202.9 L552.1,1200.5 L553.7,1198 L555.1,1195.3 L556.3,1192.6 L557.5,1189.9 L558.6,1187.1 L559.7,1184.3 L560.8,1181.5 L562,1178.7 L563.2,1176 L564.4,1173.2 L565.4,1170.4 L566.4,1167.6 L567.2,1164.7 L567.9,1161.8 L568.6,1158.9 L569.2,1155.9 L569.8,1153 L570.4,1150 L571,1147.1 L571.5,1144.1 L572,1141.2 L572.5,1138.2 L573,1135.3 L573.5,1132.3 L574,1129.4 L574.5,1126.4 L575,1123.4 L575.5,1120.5 L576,1117.5 L576.4,1114.5 L576.8,1111.6 L577.2,1108.6 L577.6,1105.6 L577.9,1102.6 L578.2,1099.7 L578.5,1096.7 L578.7,1093.7 L579,1090.7 L579.3,1087.7 L579.6,1084.7 L579.9,1081.7 L580.2,1078.8 L580.6,1075.8 L580.9,1072.8 L581.2,1069.8 L581.5,1066.8 L581.8,1063.8 L582,1060.8 L582.2,1057.9 L582.4,1054.9 L582.6,1051.9 L583.1,1048.9 L583.7,1046 L584.3,1043.1 L584.8,1040.1 L585.2,1037.2 L585.6,1034.2 L586,1031.2 L586.4,1028.2 L586.8,1025.3 L587.1,1022.3 L587.5,1019.3 L587.9,1016.3 L588.3,1013.4 L588.7,1010.4 L589.1,1007.4 L589.5,1004.4 L589.8,1001.5 L590.1,998.5 L590.3,995.5 L590.6,992.5 L591,989.5 L591.5,986.6 L592,983.6 L592.5,980.7 L593,977.7 L593.5,974.7 L593.9,971.8 L594.4,968.8 L594.9,965.9 L595.5,962.9 L596.2,960 L597.1,957.1 L598.1,954.3 L599.3,951.6 L600.6,948.8 L601.9,946.2 L603.3,943.5 L604.6,940.8 L605.8,938.1 L606.8,935.2 L607.9,932.4 L609,929.7 L610.4,927 L611.8,924.4 L613.4,921.8 L615.1,919.4 L616.9,917 L618.8,914.6 L620.8,912.4 L622.8,910.2 L624.9,908.1 L626.9,905.9 L628.7,903.4 L630.2,900.9 L631.8,898.3 L633.4,895.8 L635.1,893.3 L636.9,890.9 L638.7,888.5 L640.5,886.1 L642.4,883.8 L644.3,881.5 L646.2,879.2 L648.3,877 L650.4,874.9 L652.8,873.1 L655.2,871.4 L657.8,869.8 L660.4,868.4 L663.1,867 L665.8,865.7 L668.5,864.3 L671.1,862.9 L673.6,861.3 L676,859.5 L678,857.4 L679.8,855 L681.3,852.4 L682.5,849.7 L683.7,846.9 L684.8,844.1 L686,841.4 L687.5,838.8 L689.1,836.3 L691,834 L693.2,832.1 L695.6,830.8 L698.2,830.9 L700.7,832.1 L703,834 L705,836.1 L706.9,838.5 L708.6,840.9 L710.1,843.5 L711.6,846.1 L713.1,848.7 L714.4,851.4 L715.7,854.1 L716.9,856.8 L718.2,859.6 L719.5,862.3 L720.8,865 L722.2,867.6 L723.5,870.3 L724.8,873 L726,875.8 L727.1,878.6 L728.2,881.4 L729.3,884.1 L730.5,886.9 L731.8,889.6 L733.1,892.3 L734.3,895.1 L735.5,897.8 L736.7,900.6 L737.8,903.3 L738.8,906.2 L739.8,909 L740.8,911.8 L741.9,914.6 L742.9,917.4 L744,920.2 L745.1,923 L746.2,925.8 L747.3,928.6 L748.5,931.4 L749.7,934.1 L750.8,936.9 L752,939.7 L753.1,942.4 L754.4,945.2 L755.7,947.8 L757.2,950.5 L758.8,953 L760.4,955.5 L762.2,957.9 L764,960.3 L766,962.6 L768,964.8 L770.1,967 L772.2,969 L774.5,971 L776.8,972.8 L779.3,974.6 L781.8,976.3 L784.3,977.9 L786.8,979.5 L789.3,981.1 L791.9,982.6 L794.6,984.1 L797.3,985.4 L800,986.6 L802.8,987.8 L805.6,988.9 L808.3,990 L811.1,991.1 L813.9,992.1 L816.8,993.1 L819.7,993.9 L822.5,994.8 L825.4,995.6 L828.3,996.5 L831.2,997.3 L834,998.2 L836.9,999.1 L839.8,999.9 L842.7,1000.6 L845.6,1001.2 L848.6,1001.7 L851.6,1002.1 L854.6,1002.4 L857.5,1002.6 L860.5,1002.6 L863.5,1002.6 L866.5,1002.6 L869.5,1002.4 L872.5,1002.2 L875.5,1001.8 L878.4,1001.1 L881.3,1000.4 L884.2,999.7 L887.1,999 L890,998.2 L892.9,997.4 L895.8,996.6 L898.7,995.8 L901.6,995.3 L904.6,994.8 L907.4,994 L910.2,993 L913,991.8 L915.7,990.6 L918.5,989.3 L921.2,988.1 L923.9,986.8 L926.6,985.5 L929.3,984.2 L932,982.8 L934.6,981.5 L937.3,980.1 L940,978.8 L942.7,977.4 L945.4,976.1 L948.1,974.8 L950.8,973.5 L953.5,972.2 L956.2,970.9 L958.9,969.7 L961.7,968.6 L964.5,967.6 L967.4,966.7 L970.3,965.9 L973.2,965.3 L976.2,964.7 L979.1,964.3 L982.1,964 L985.1,963.8 L988.1,963.9 L991.1,964.2 L994,964.7 L997,965.3 L999.8,966.1 L1002.7,967.1 L1005.5,968.2 L1008.2,969.5 L1010.8,970.9 L1013.4,972.3 L1016,973.9 L1018.5,975.5 L1021.1,977.1 L1023.6,978.8 L1026.1,980.5 L1028.5,982.1 L1031,983.8 L1033.5,985.5 L1036,987.2 L1038.4,988.9 L1040.9,990.6 L1043.4,992.3 L1045.8,994.1 L1048.2,995.8 L1050.7,997.6 L1053.1,999.4 L1055.5,1001.1 L1057.9,1002.9 L1060.3,1004.7 L1062.7,1006.6 L1065.1,1008.4 L1067.5,1010.2 L1069.8,1012.1 L1072.2,1013.9 L1074.5,1015.8 L1076.9,1017.6 L1079.2,1019.5 L1081.5,1021.4 L1083.9,1023.3 L1086.2,1025.2 L1088.6,1027.1 L1090.9,1028.9 L1093.2,1030.8 L1095.6,1032.7 L1097.9,1034.5 L1100.3,1036.4 L1102.6,1038.3 L1105,1040.2 L1107.3,1042.1 L1109.6,1044 L1111.9,1045.9 L1114.2,1047.9 L1116.4,1049.8 L1118.7,1051.8 L1121,1053.7 L1123.3,1055.7 L1125.6,1057.6 L1127.9,1059.5 L1130.2,1061.4 L1132.5,1063.3 L1134.8,1065.3 L1137.1,1067.1 L1139.5,1069 L1141.9,1070.8 L1144.3,1072.6 L1146.7,1074.3 L1149.2,1076 L1151.8,1077.6 L1154.3,1079.2 L1156.9,1080.7 L1159.5,1082.2 L1162.1,1083.6 L1164.8,1085 L1167.5,1086.4 L1170.2,1087.7 L1172.9,1088.9 L1175.7,1090.1 L1178.4,1091.3 L1181.2,1092.4 L1184,1093.6 L1186.8,1094.7 L1189.5,1095.8 L1192.3,1096.9 L1195.2,1097.9 L1198,1098.8 L1200.9,1099.7 L1203.8,1100.5 L1206.7,1101.1 L1209.6,1101.8 L1212.6,1102.4 L1215.5,1103 L1218.4,1103.7 L1221.3,1104.4 L1224.3,1105.1 L1227.2,1105.9 L1230.1,1106.6 L1233,1107.4 L1235.8,1108.3 L1238.7,1109.1 L1241.6,1110 L1244.4,1110.9 L1247.3,1111.7 L1250.2,1112.5 L1253.1,1113.3 L1256,1114.1 L1258.9,1114.8 L1261.9,1115.4 L1264.8,1115.9 L1267.8,1116.4 L1270.8,1116.6 L1273.8,1116.8 L1276.8,1116.9 L1279.8,1116.9 L1282.8,1117 L1285.8,1117.1 L1288.7,1117.2 L1291.7,1117.3 L1294.7,1117.4 L1297.7,1117.5 L1300.7,1117.5 L1303.7,1117.5 L1306.7,1117.5 L1309.7,1117.4 L1312.7,1117.3 L1315.7,1117 L1318.7,1116.7 L1321.7,1116.4 L1324.7,1115.9 L1327.6,1115.4 L1330.5,1114.8 L1333.5,1114.1 L1336.4,1113.3 L1339.2,1112.5 L1342.1,1111.5 L1344.9,1110.6 L1347.8,1109.8 L1350.7,1109.1 L1353.7,1108.5 L1356.6,1108.1 L1359.6,1107.7 L1362.6,1107.3 L1365.6,1106.8 L1368.5,1106.4 L1371.5,1105.8 L1374.4,1105.3 L1377.4,1104.7 L1380.3,1104.2 L1383.3,1103.7 L1386.3,1103.4 L1389.2,1103.1 L1392.2,1102.8 L1395.2,1102.6 L1398.2,1102.3 L1401.2,1102.1 L1404.2,1101.8 L1407.2,1101.6 L1410.2,1101.4 L1413.2,1101.1 L1416.2,1100.8 L1419.1,1100.6 L1422.1,1100.2 L1425.1,1099.9 L1428.1,1099.6 L1431.1,1099.4 L1434.1,1099.2 L1437.1,1099 L1440.1,1098.9 L1443.1,1098.9 L1446.1,1098.8 L1449.1,1098.8 L1452.1,1098.9 L1455.1,1098.9 L1458.1,1099 L1461.1,1099.1 L1464.1,1099.2 L1467.1,1099.1 L1470.1,1099 L1473,1098.8 L1476,1098.6 L1479,1098.3 L1482,1098.1 L1485,1097.9 L1488,1097.8 L1491,1097.7 L1494,1097.5 L1497,1097.4 L1500,1097.2 L1503,1096.9 L1506,1096.6 L1508.9,1096.2 L1511.9,1095.8 L1514.9,1095.5 L1517.9,1095.2 L1520.9,1095 L1523.9,1094.8 L1526.9,1094.6 L1529.9,1094.4 L1532.8,1094.2 L1535.8,1094 L1538.8,1093.8 L1541.8,1093.6 L1544.8,1093.4 L1547.8,1093.2 L1550.8,1093 L1553.8,1092.7 L1556.8,1092.5 L1559.8,1092.1 L1562.7,1091.7 L1565.7,1091.3 L1568.7,1090.9 L1571.6,1090.5 L1574.6,1090.3 L1577.6,1090.1 L1580.6,1090 L1583.6,1089.9 L1586.6,1089.8 L1589.6,1089.7 L1592.6,1089.5 L1595.6,1089.3 L1598.6,1089 L1601.6,1088.7 L1604.6,1088.5 L1607.6,1088.3 L1610.6,1088.1 L1613.6,1087.9 L1616.5,1087.8 L1619.5,1087.6 L1622.5,1087.5 L1625.5,1087.5 L1628.5,1087.5 L1631.5,1087.5 L1634.5,1087.5 L1637.5,1087.5 L1640.5,1087.4 L1643.5,1087.3 L1646.5,1087 L1649.5,1086.8 L1652.5,1086.5 L1655.5,1086.3 L1658.5,1086.1 L1661.5,1086 L1664.5,1085.9 L1667.5,1085.9 L1670.5,1085.8 L1673.5,1085.8 L1676.5,1085.7 L1679.5,1085.7 L1682.5,1085.6 L1685.5,1085.7 L1688.5,1085.8 L1691.5,1086 L1694.4,1086.4 L1697.4,1086.8 L1700.4,1087.3 L1703.3,1087.8 L1706.3,1088.2 L1709.3,1088.6 L1712.3,1088.8 L1715.2,1089.1 L1718.2,1089.3 L1721.2,1089.5 L1724.2,1089.8 L1727.2,1090 L1730.2,1090.2 L1733.2,1090.4 L1736.2,1090.6 L1739.2,1090.8 L1742.2,1091 L1745.2,1091.2 L1748.2,1091.5 L1751.1,1091.7 L1754.1,1091.7 L1757.1,1091.5 L1760.1,1091.1 L1763,1090.5 L1765.9,1089.8 L1768.8,1089.1 L1771.8,1088.4 L1774.7,1087.8 L1777.6,1087.2 L1780.6,1086.7 L1783.6,1086.2 L1786.5,1085.7 L1789.4,1085.1 L1792.4,1084.4 L1795.3,1083.7 L1798.2,1082.9 L1801.1,1082.1 L1804,1081.4 L1806.9,1080.8 L1809.9,1080.3 L1812.8,1079.9 L1815.8,1079.5 L1818.8,1079.2 L1821.8,1078.9 L1824.8,1078.6 L1827.8,1078.3 L1830.8,1078 L1833.7,1077.8 L1836.7,1077.7 L1839.7,1077.5 L1842.7,1077.5 L1845.7,1077.4 L1848.7,1077.4 L1851.7,1077.4 L1854.7,1077.5 L1857.6,1077.5 L1860.4,1077.5 L1860.8,1077.5" fill="none" stroke="#b23aff" stroke-width="4.4" stroke-linejoin="round" stroke-linecap="round"/>
<path d="M216.2,1210.5 L216.8,1213.4 L217.4,1216.4 L218.2,1219.2 L219.2,1222.1 L220.2,1224.9 L221.3,1227.7 L222.3,1230.5 L223.4,1233.3 L224.6,1236.1 L225.7,1238.9 L226.8,1241.7 L227.9,1244.4 L229,1247.2 L230.2,1250 L231.3,1252.8 L232.4,1255.6 L233.5,1258.4 L234.5,1261.2 L235.6,1264 L236.6,1266.8 L237.6,1269.6 L238.8,1272.4 L239.9,1275.2 L241.2,1277.9 L242.4,1280.6 L243.7,1283.3 L245.1,1286 L246.5,1288.6 L248.1,1291.2 L249.8,1293.6 L251.4,1296.2 L252.9,1298.8 L254.2,1301.5 L255.6,1304.1 L257,1306.8 L258.5,1309.4 L260,1312 L261.5,1314.6 L262.9,1317.2 L264.4,1319.8 L265.8,1322.5 L267.2,1325.1 L268.6,1327.8 L270.1,1330.4 L271.5,1333 L272.9,1335.7 L274.4,1338.3 L275.9,1340.9 L277.5,1343.4 L279.1,1346 L280.7,1348.5 L282.4,1351 L284.1,1353.4 L286,1355.8 L287.9,1358.1 L289.8,1360.4 L291.8,1362.6 L293.8,1364.9 L295.9,1367 L298.1,1369.1 L300.3,1371 L302.6,1373 L304.9,1374.9 L307.3,1376.8 L309.7,1378.5 L312.2,1380.2 L314.8,1381.7 L317.4,1383.1 L320.1,1384.4 L322.8,1385.7 L325.6,1386.8 L328.4,1388 L331.2,1389.1 L334,1390.1 L336.8,1391.1 L339.6,1392.2 L342.5,1393.1 L345.3,1394 L348.2,1394.8 L351.2,1395.5 L354.1,1396.1 L357,1396.8 L359.9,1397.5 L362.9,1398.1 L365.8,1398.8 L368.7,1399.4 L371.6,1400.1 L374.6,1400.7 L377.5,1401.2 L380.5,1401.7 L383.5,1402.2 L386.4,1402.6 L389.4,1402.9 L392.4,1403.2 L395.4,1403.4 L398.3,1403.7 L401.2,1404.2 L403.9,1405.3 L406.5,1406.6 L409.2,1407.9 L412,1408.8 L415,1409.2 L417.9,1409.2 L420.9,1409 L423.9,1408.6 L426.9,1408.1 L429.8,1407.4 L432.7,1406.7 L435.6,1406 L438.5,1405.2 L441.4,1404.5 L444.3,1403.8 L447.3,1403.2 L450.2,1402.6 L453.1,1402 L456.1,1401.3 L458.9,1400.5 L461.7,1399.5 L464.5,1398.2 L467.1,1396.8 L469.6,1395.1 L471.9,1393.3 L474.1,1391.3 L476.3,1389.2 L478.4,1387.1 L480.5,1384.9 L482.6,1382.7 L484.6,1380.5 L486.6,1378.3 L488.6,1376.1 L490.7,1373.9 L492.7,1371.7 L494.7,1369.5 L496.7,1367.2 L498.7,1364.9 L500.5,1362.6 L502.3,1360.2 L504.2,1357.8 L506,1355.4 L507.9,1353.1 L509.8,1350.9 L511.9,1348.6 L513.9,1346.5 L516,1344.3 L518.2,1342.2 L520.4,1340.2 L522.7,1338.3 L525,1336.4 L527.4,1334.6 L529.9,1332.9 L532.4,1331.2 L534.9,1329.6 L537.5,1328 L540.1,1326.5 L542.7,1325.1 L545.3,1323.7 L548,1322.4 L550.7,1321 L553.4,1319.7 L556.1,1318.4 L558.8,1317 L561.5,1315.7 L564.2,1314.4 L566.9,1313.1 L569.6,1311.8 L572.3,1310.6 L575,1309.3 L577.7,1307.9 L580.3,1306.5 L583,1305.1 L585.6,1303.7 L588.3,1302.2 L590.9,1300.8 L593.5,1299.4 L596.2,1298 L598.9,1296.7 L601.6,1295.4 L604.3,1294.2 L607.1,1293.1 L610,1292.1 L612.8,1291.2 L615.7,1290.3 L618.5,1289.4 L621.4,1288.5 L624.3,1287.5 L627.1,1286.6 L630,1285.7 L632.8,1284.8 L635.7,1283.9 L638.5,1283 L641.4,1282.1 L644.3,1281.2 L647.1,1280.3 L650,1279.4 L652.9,1278.6 L655.8,1277.7 L658.6,1276.9 L661.5,1276 L664.4,1275.2 L667.3,1274.4 L670.2,1273.6 L673.1,1272.8 L675.9,1271.9 L678.8,1271.1 L681.7,1270.2 L684.6,1269.3 L687.4,1268.5 L690.3,1267.6 L693.2,1266.7 L696,1265.9 L698.9,1265 L701.8,1264.1 L704.7,1263.3 L707.5,1262.4 L710.4,1261.6 L713.3,1260.7 L716.2,1259.8 L719,1259 L721.9,1258.2 L724.8,1257.4 L727.7,1256.5 L730.6,1255.7 L733.5,1255 L736.4,1254.3 L739.3,1253.7 L742.3,1253.1 L745.2,1252.5 L748.2,1252 L751.1,1251.5 L754.1,1251 L757.1,1250.5 L760,1250 L763,1249.5 L766,1249.1 L768.9,1248.7 L771.9,1248.3 L774.9,1247.9 L777.9,1247.6 L780.8,1247.3 L783.8,1247 L786.8,1246.7 L789.8,1246.4 L792.8,1246.2 L795.8,1245.9 L798.8,1245.6 L801.8,1245.4 L804.8,1245.2 L807.7,1245 L810.7,1244.8 L813.7,1244.6 L816.7,1244.4 L819.7,1244.2 L822.7,1244 L825.7,1243.9 L828.7,1243.7 L831.7,1243.5 L834.7,1243.4 L837.7,1243.2 L840.7,1243 L843.7,1242.9 L846.7,1242.7 L849.7,1242.6 L852.7,1242.4 L855.7,1242.3 L858.7,1242.2 L861.7,1242 L864.7,1241.9 L867.7,1241.8 L870.7,1241.7 L873.7,1241.6 L876.7,1241.4 L879.6,1241.3 L882.6,1241.2 L885.6,1241.1 L888.6,1241 L891.6,1241 L894.6,1240.9 L897.6,1240.8 L900.6,1240.7 L903.6,1240.6 L906.6,1240.5 L909.6,1240.4 L912.6,1240.3 L915.6,1240.2 L918.6,1240.2 L921.6,1240.1 L924.6,1240 L927.6,1239.9 L930.6,1239.8 L933.6,1239.7 L936.6,1239.6 L939.6,1239.5 L942.6,1239.4 L945.6,1239.2 L948.6,1239 L951.6,1238.7 L954.6,1238.5 L957.6,1238.2 L960.6,1238 L963.6,1237.8 L966.6,1237.7 L969.6,1237.5 L972.5,1237.4 L975.5,1237.3 L978.5,1237.1 L981.5,1236.9 L984.5,1236.7 L987.5,1236.5 L990.5,1236.2 L993.5,1235.9 L996.5,1235.5 L999.5,1235.2 L1002.4,1234.9 L1005.4,1234.6 L1008.4,1234.4 L1011.4,1234.2 L1014.4,1233.9 L1017.4,1233.7 L1020.4,1233.5 L1023.4,1233.4 L1026.4,1233.2 L1029.4,1233 L1032.4,1232.9 L1035.4,1232.7 L1038.4,1232.6 L1041.4,1232.5 L1044.4,1232.3 L1047.3,1232.1 L1050.3,1231.9 L1053.3,1231.7 L1056.3,1231.4 L1059.3,1231 L1062.3,1230.7 L1065.3,1230.4 L1068.2,1230.1 L1071.2,1229.8 L1074.2,1229.6 L1077.2,1229.4 L1080.2,1229.1 L1083.2,1228.9 L1086.2,1228.7 L1089.2,1228.6 L1092.2,1228.4 L1095.2,1228.2 L1098.2,1228 L1101.2,1227.8 L1104.2,1227.7 L1107.2,1227.5 L1110.1,1227.3 L1113.1,1227.1 L1116.1,1226.9 L1119.1,1226.7 L1122.1,1226.5 L1125.1,1226.3 L1128.1,1226 L1131.1,1225.8 L1134.1,1225.6 L1137.1,1225.4 L1140.1,1225.2 L1143.1,1225.1 L1146.1,1224.9 L1149.1,1224.8 L1152.1,1224.7 L1155.1,1224.5 L1158.1,1224.3 L1161,1224.2 L1164,1223.9 L1167,1223.7 L1170,1223.5 L1173,1223.3 L1176,1223.1 L1179,1222.9 L1182,1222.8 L1185,1222.7 L1188,1222.7 L1191,1222.7 L1194,1222.7 L1197,1222.8 L1200,1222.8 L1203,1222.8 L1206,1222.8 L1209,1222.8 L1212,1222.8 L1215,1222.8 L1218,1222.8 L1221,1222.8 L1224,1222.8 L1227,1222.8 L1230,1222.9 L1233,1222.9 L1236,1223 L1239,1223.1 L1242,1223.1 L1245,1223.2 L1248,1223.2 L1251,1223.2 L1254,1223.2 L1257,1223.3 L1260,1223.3 L1263,1223.2 L1266,1223.2 L1269,1223.2 L1272,1223.1 L1275,1223.1 L1278,1223 L1281,1222.9 L1284,1222.8 L1287,1222.7 L1290,1222.6 L1293,1222.5 L1296,1222.4 L1299,1222.4 L1302,1222.2 L1305,1222.1 L1308,1221.9 L1311,1221.6 L1313.9,1221.3 L1316.9,1220.8 L1319.9,1220.3 L1322.8,1219.7 L1325.7,1219.1 L1328.7,1218.5 L1331.6,1217.8 L1334.5,1217 L1337.4,1216.2 L1340.2,1215.4 L1343.1,1214.5 L1346,1213.5 L1348.8,1212.6 L1351.7,1211.7 L1354.6,1211 L1357.5,1210.2 L1360.4,1209.6 L1363.4,1209.1 L1366.3,1208.6 L1369.3,1208.1 L1372.3,1207.6 L1375.2,1207.2 L1378.2,1206.8 L1381.2,1206.4 L1384.1,1206 L1387.1,1205.7 L1390.1,1205.4 L1393.1,1205.2 L1396.1,1204.9 L1399.1,1204.8 L1402.1,1204.7 L1405.1,1204.6 L1408.1,1204.5 L1411.1,1204.4 L1414.1,1204.3 L1417.1,1204.2 L1420.1,1204.1 L1423.1,1204 L1426.1,1204 L1429.1,1203.9 L1432.1,1203.8 L1435.1,1203.7 L1438.1,1203.6 L1441.1,1203.5 L1444.1,1203.4 L1447.1,1203.3 L1450.1,1203.1 L1453.1,1203 L1456.1,1202.8 L1459,1202.6 L1462,1202.3 L1465,1202 L1468,1201.6 L1471,1201.1 L1473.9,1200.7 L1476.9,1200.2 L1479.8,1199.7 L1482.8,1199.3 L1485.8,1198.9 L1488.8,1198.6 L1491.8,1198.3 L1494.7,1197.9 L1497.7,1197.6 L1500.7,1197.4 L1503.7,1197.1 L1506.7,1196.9 L1509.7,1196.7 L1512.7,1196.6 L1515.7,1196.5 L1518.7,1196.4 L1521.7,1196.4 L1524.7,1196.3 L1527.7,1196.3 L1530.7,1196.1 L1533.7,1195.9 L1536.6,1195.6 L1539.6,1195.2 L1542.6,1194.8 L1545.6,1194.4 L1548.5,1193.9 L1551.5,1193.5 L1554.5,1193.2 L1557.5,1192.9 L1560.5,1192.6 L1563.4,1192.5 L1566.4,1192.3 L1569.4,1192.2 L1572.4,1192.1 L1575.4,1192 L1578.4,1191.8 L1581.4,1191.6 L1584.4,1191.4 L1587.4,1191.1 L1590.4,1190.8 L1593.4,1190.5 L1596.4,1190.1 L1599.3,1189.8 L1602.3,1189.5 L1605.3,1189.2 L1608.3,1188.9 L1611.3,1188.6 L1614.3,1188.3 L1617.2,1188 L1620.2,1187.7 L1623.2,1187.4 L1626.2,1187.1 L1629.2,1186.8 L1632.2,1186.5 L1635.2,1186.2 L1638.1,1185.9 L1641.1,1185.7 L1644.1,1185.4 L1647.1,1185.1 L1650.1,1184.9 L1653.1,1184.7 L1656.1,1184.6 L1659.1,1184.4 L1662.1,1184.3 L1665.1,1184.2 L1668.1,1184.1 L1671.1,1184.1 L1674.1,1184 L1677.1,1184 L1680.1,1184 L1683.1,1184 L1686.1,1184 L1689.1,1184.1 L1692.1,1184.2 L1695.1,1184.3 L1698.1,1184.4 L1701.1,1184.6 L1704,1184.9 L1707,1185.2 L1710,1185.5 L1713,1185.9 L1716,1186.2 L1718.9,1186.6 L1721.9,1186.9 L1724.9,1187.3 L1727.9,1187.6 L1730.9,1187.9 L1733.9,1188.2 L1736.8,1188.5 L1739.8,1188.8 L1742.8,1189.1 L1745.8,1189.4 L1748.8,1189.7 L1751.8,1190 L1754.7,1190.3 L1757.7,1190.4 L1760.7,1190.4 L1763.7,1190.3 L1766.7,1190.2 L1769.7,1190 L1772.7,1189.8 L1775.7,1189.6 L1778.7,1189.3 L1781.7,1188.9 L1784.6,1188.5 L1787.6,1188 L1790.5,1187.4 L1793.5,1186.7 L1796.4,1186.1 L1799.3,1185.4 L1802.3,1184.8 L1805.2,1184.3 L1808.2,1183.8 L1811.1,1183.4 L1814.1,1183.1 L1817.1,1182.8 L1820.1,1182.6 L1823.1,1182.4 L1826.1,1182.3 L1829.1,1182.2 L1832.1,1182.1 L1835.1,1182 L1838.1,1182 L1841.1,1182.1 L1844.1,1182.1 L1847.1,1182.1 L1850.1,1182.2 L1853.1,1182.2 L1856.1,1182.3 L1859,1182.4 L1861.4,1182.4" fill="none" stroke="#000000" stroke-width="4.4" stroke-linejoin="round" stroke-linecap="round"/>
<g fill="#000">
<rect x="211" y="31" width="6" height="1482"/>
<rect x="200" y="1506" width="1836" height="7"/>
<rect x="185" y="31" width="27" height="6"/>
<rect x="200" y="144.5" width="12" height="6"/>
<rect x="185" y="258" width="27" height="6"/>
<rect x="200" y="371.5" width="12" height="6"/>
<rect x="185" y="485" width="27" height="6"/>
<rect x="200" y="598.4" width="12" height="6"/>
<rect x="185" y="711.9" width="27" height="6"/>
<rect x="200" y="825.4" width="12" height="6"/>
<rect x="185" y="938.9" width="27" height="6"/>
<rect x="200" y="1052.4" width="12" height="6"/>
<rect x="185" y="1165.9" width="27" height="6"/>
<rect x="200" y="1279.4" width="12" height="6"/>
<rect x="185" y="1392.9" width="27" height="6"/>
<rect x="337.9" y="1512" width="7" height="12"/>
<rect x="507" y="1512" width="7" height="27"/>
<rect x="676.2" y="1512" width="7" height="12"/>
<rect x="845.3" y="1512" width="7" height="27"/>
<rect x="1014.5" y="1512" width="7" height="12"/>
<rect x="1183.6" y="1512" width="7" height="27"/>
<rect x="1352.7" y="1512" width="7" height="12"/>
<rect x="1521.9" y="1512" width="7" height="27"/>
<rect x="1691" y="1512" width="7" height="12"/>
<rect x="1860.2" y="1512" width="7" height="27"/>
<rect x="2029.3" y="1512" width="7" height="12"/>
<rect x="704.8" y="212" width="3" height="38.9"/>
<rect x="967" y="393" width="3" height="37.5"/>
<rect x="681" y="458.1" width="3" height="37.7"/>
<rect x="494.3" y="570.5" width="3" height="37.3"/>
<rect x="989.8" y="560" width="3" height="37.7"/>
<rect x="417.8" y="667" width="3" height="38"/>
<rect x="687.9" y="630.5" width="3" height="37.2"/>
<rect x="601" y="727" width="3" height="38.9"/>
<rect x="412.8" y="748.1" width="3" height="37.6"/>
<rect x="695.1" y="808.2" width="3" height="38.5"/>
<rect x="991.9" y="784.2" width="3" height="37.3"/>
<rect x="979" y="945.1" width="3" height="37.8"/>
<rect x="543.6" y="1037.1" width="3" height="37.2"/>
<rect x="413.7" y="1103.4" width="3" height="38.1"/>
<rect x="541.9" y="1189" width="3" height="38.6"/>
<rect x="420.8" y="1279" width="3" height="37.6"/>
<rect x="415.6" y="1386.3" width="3" height="37.1"/>
<rect x="148.7" y="70" width="3.2" height="156"/>
<polygon points="150.3,33 161,71.5 139.6,71.5"/>
<polygon points="150.3,262.9 161,224.3 139.6,224.3"/>
<rect x="258" y="70" width="3" height="35.8"/>
<polygon points="259.5,31.7 269.5,70.7 249.5,70.7"/>
</g>
<text x="669.4" y="183.8" font-size="42" stroke="#000" stroke-width="0.5">316</text>
<text x="946.1" y="361" font-size="42" stroke="#000" stroke-width="0.5">471</text>
<text x="650.8" y="431" font-size="42" stroke="#000" stroke-width="0.5">302</text>
<text x="443.3" y="530" font-size="42" stroke="#000" stroke-width="0.5">187</text>
<text x="966.1" y="548.6" font-size="42" stroke="#000" stroke-width="0.5">465</text>
<text x="365.1" y="656" font-size="42" stroke="#000" stroke-width="0.5">146</text>
<text x="658.4" y="623.8" font-size="42" stroke="#000" stroke-width="0.5">306</text>
<text x="550.9" y="709.1" font-size="42" stroke="#000" stroke-width="0.5">252</text>
<text x="382.1" y="820.7" font-size="42" stroke="#000" stroke-width="0.5">143</text>
<text x="659.4" y="793.7" font-size="42" stroke="#000" stroke-width="0.5">310</text>
<text x="965.2" y="773.7" font-size="42" stroke="#000" stroke-width="0.5">486</text>
<text x="958" y="932.4" font-size="42" stroke="#000" stroke-width="0.5">478</text>
<text x="493.7" y="1123.8" font-size="42" stroke="#000" stroke-width="0.5">215</text>
<text x="377.9" y="1182.9" font-size="42" stroke="#000" stroke-width="0.5">144</text>
<text x="517.9" y="1267" font-size="42" stroke="#000" stroke-width="0.5">220</text>
<text x="385.9" y="1359.6" font-size="42" stroke="#000" stroke-width="0.5">148</text>
<text x="380.2" y="1466.3" font-size="42" stroke="#000" stroke-width="0.5">145</text>
<text transform="translate(510.5,1608) scale(0.99,1.045)" font-size="62" text-anchor="middle" stroke="#000" stroke-width="0.4">200</text>
<text transform="translate(848.8,1608) scale(0.99,1.045)" font-size="62" text-anchor="middle" stroke="#000" stroke-width="0.4">400</text>
<text transform="translate(1187.1,1608) scale(0.99,1.045)" font-size="62" text-anchor="middle" stroke="#000" stroke-width="0.4">600</text>
<text transform="translate(1525.4,1608) scale(0.99,1.045)" font-size="62" text-anchor="middle" stroke="#000" stroke-width="0.4">800</text>
<text transform="translate(1863.7,1608) scale(0.99,1.045)" font-size="62" text-anchor="middle" stroke="#000" stroke-width="0.4">1000</text>
<text transform="translate(1866.9,517) scale(0.99,1.05)" font-size="62" stroke="#000" stroke-width="0.4">PD200</text>
<text transform="translate(1871.9,632.1) scale(0.99,1.05)" font-size="62" stroke="#000" stroke-width="0.4">PD100</text>
<text transform="translate(1868.8,942.9) scale(0.99,1.05)" font-size="62" stroke="#000" stroke-width="0.4">PO200</text>
<text transform="translate(1866.8,1100) scale(0.99,1.05)" font-size="62" stroke="#000" stroke-width="0.4">PO100</text>
<text transform="translate(1871.9,1204.7) scale(0.99,1.05)" font-size="62" stroke="#000" stroke-width="0.4">P</text>
<text transform="translate(70.8,164.9) scale(1.0,1.04)" font-size="54" stroke="#000" stroke-width="0.4">10</text>
<text transform="translate(281.6,91) scale(1.0,1.04)" font-size="63" stroke="#000" stroke-width="0.4">exo</text>
<text transform="translate(828.5,1735) scale(0.978,1.025)" font-size="78">Temperature (<tspan font-size="50" dy="-30.5">o</tspan><tspan dy="30.5">C)</tspan></text>
<text transform="translate(79.2,903) rotate(-90) scale(0.9925,1.02)" font-size="78">DSC (<tspan font-family="Liberation Serif">&#956;</tspan>V)</text>
<g fill="#fff"><rect x="694.00" y="179.00" width="9.02" height="6.00"/><rect x="707.33" y="179.00" width="8.67" height="6.00"/><rect x="994.00" y="356.00" width="9.11" height="7.00"/><rect x="1007.43" y="356.00" width="8.57" height="7.00"/><rect x="445.00" y="525.00" width="8.59" height="7.00"/><rect x="457.90" y="525.00" width="8.10" height="7.00"/><rect x="367.00" y="651.00" width="8.39" height="7.00"/><rect x="379.70" y="651.00" width="8.30" height="7.00"/><rect x="384.00" y="816.00" width="8.39" height="6.00"/><rect x="396.70" y="816.00" width="8.30" height="6.00"/><rect x="684.00" y="789.00" width="9.02" height="6.00"/><rect x="697.33" y="789.00" width="8.67" height="6.00"/><rect x="519.00" y="1119.00" width="8.31" height="6.00"/><rect x="531.62" y="1119.00" width="8.38" height="6.00"/><rect x="379.00" y="1178.00" width="9.19" height="7.00"/><rect x="392.50" y="1178.00" width="8.50" height="7.00"/><rect x="387.00" y="1355.00" width="9.19" height="6.00"/><rect x="400.50" y="1355.00" width="8.50" height="6.00"/><rect x="382.00" y="1461.00" width="8.49" height="7.00"/><rect x="394.80" y="1461.00" width="8.20" height="7.00"/><rect x="1960.00" y="626.00" width="12.27" height="8.00"/><rect x="1978.29" y="626.00" width="11.71" height="8.00"/><rect x="1958.00" y="1093.00" width="12.58" height="9.00"/><rect x="1976.61" y="1093.00" width="11.39" height="9.00"/><rect x="73.00" y="159.00" width="11.10" height="8.00"/><rect x="89.47" y="159.00" width="10.53" height="8.00"/><rect x="1798.00" y="1601.00" width="12.56" height="9.00"/><rect x="1816.59" y="1601.00" width="11.41" height="9.00"/></g>
</svg></body></html>
